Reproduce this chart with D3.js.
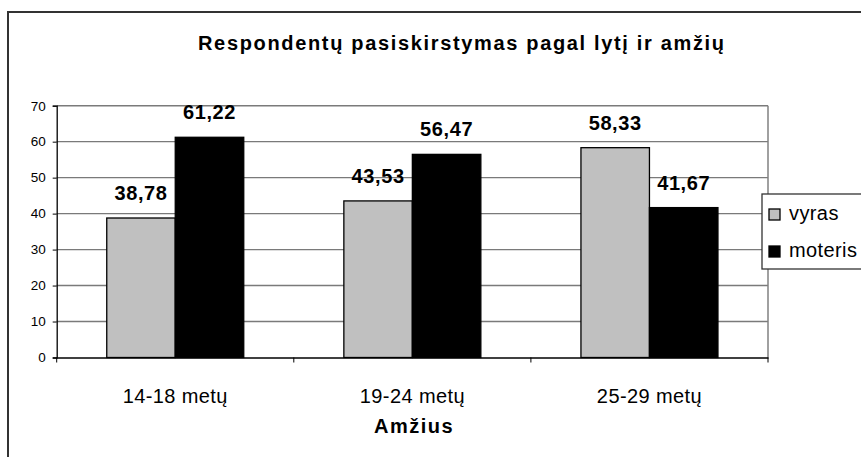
<!DOCTYPE html>
<html>
<head>
<meta charset="utf-8">
<script src="https://cdn.jsdelivr.net/npm/d3@7"></script>
<style>
  html, body { margin: 0; padding: 0; background: #fff; }
  svg { display: block; font-family: "Liberation Sans", Arial, sans-serif; }
</style>
</head>
<body>
<svg id="chart" width="861" height="457"></svg>
<script>
const categories = ["14-18 metų", "19-24 metų", "25-29 metų"];
const seriesNames = ["vyras", "moteris"];
const vyras = [38.78, 43.53, 58.33];
const moteris = [61.22, 56.47, 41.67];
const yTicks = [0, 10, 20, 30, 40, 50, 60, 70];
const title = "Respondentų pasiskirstymas pagal lytį ir amžių";
const xTitle = "Amžius";

const fills = { vyras: "#c0c0c0", moteris: "#000000" };
const fmt = v => v.toFixed(2).replace(".", ",");

const svg = d3.select("#chart");
const plot = { left: 56.7, right: 768, top: 105.7, bottom: 357.5 };

// outer chart border
svg.append("rect")
  .attr("x", 8).attr("y", 12).attr("width", 900).attr("height", 500)
  .attr("fill", "#fff").attr("stroke", "#333").attr("stroke-width", 2);

const x0 = d3.scaleBand().domain(categories).range([plot.left, plot.right]).paddingInner(0).paddingOuter(0);
const groupW = 137;
const x1 = d3.scaleBand().domain(seriesNames)
  .range([(x0.bandwidth() - groupW) / 2, (x0.bandwidth() + groupW) / 2]);
const y = d3.scaleLinear().domain([0, 70]).range([plot.bottom, plot.top]);

// gridlines
svg.append("g").selectAll("line").data(yTicks.filter(t => t > 0)).join("line")
  .attr("x1", plot.left).attr("x2", plot.right)
  .attr("y1", d => y(d)).attr("y2", d => y(d))
  .attr("stroke", "#7a7a7a").attr("stroke-width", 1.4);

// plot right border
svg.append("line")
  .attr("x1", plot.right).attr("x2", plot.right)
  .attr("y1", plot.top).attr("y2", plot.bottom)
  .attr("stroke", "#808080").attr("stroke-width", 1.5);

// bars
const data = categories.map((c, i) => ({ cat: c, values: [
  { s: "vyras", v: vyras[i] }, { s: "moteris", v: moteris[i] } ] }));

const groups = svg.append("g").selectAll("g").data(data).join("g")
  .attr("transform", d => `translate(${x0(d.cat)},0)`);

groups.selectAll("rect").data(d => d.values).join("rect")
  .attr("x", d => x1(d.s)).attr("width", x1.bandwidth())
  .attr("y", d => y(d.v)).attr("height", d => y(0) - y(d.v))
  .attr("fill", d => fills[d.s]).attr("stroke", "#000").attr("stroke-width", 1.3);

groups.selectAll("text").data(d => d.values).join("text")
  .attr("x", d => x1(d.s) + x1.bandwidth() / 2)
  .attr("y", d => y(d.v) - 18)
  .attr("text-anchor", "middle")
  .attr("font-size", 20).attr("font-weight", "bold")
  .attr("letter-spacing", 0.6)
  .text(d => fmt(d.v));

// y axis
const yAxis = svg.append("g").attr("transform", `translate(${plot.left},0)`)
  .call(d3.axisLeft(y).tickValues(yTicks).tickSize(4).tickPadding(7).tickFormat(d3.format("d")));
yAxis.select(".domain").attr("stroke", "#000").attr("stroke-width", 1.3);
yAxis.selectAll(".tick line").attr("stroke", "#000");
yAxis.selectAll(".tick text").attr("font-size", 13.5).attr("fill", "#000")
  .attr("font-family", "Liberation Sans, Arial, sans-serif");

// x axis
const xAxis = svg.append("g").attr("transform", `translate(0,${plot.bottom})`)
  .call(d3.axisBottom(x0).tickSize(0).tickPadding(31));
xAxis.select(".domain").attr("stroke", "#000").attr("stroke-width", 1.3);
xAxis.selectAll(".tick text").attr("font-size", 20).attr("fill", "#000")
  .attr("letter-spacing", 0.4)
  .attr("font-family", "Liberation Sans, Arial, sans-serif");
// boundary ticks
const bounds = categories.map(c => x0(c)).concat([x0.range()[1]]);
svg.append("g").selectAll("line").data(bounds).join("line")
  .attr("x1", d => d).attr("x2", d => d)
  .attr("y1", plot.bottom).attr("y2", plot.bottom + 5)
  .attr("stroke", "#000").attr("stroke-width", 1);

// titles
svg.append("text").attr("x", 461).attr("y", 50).attr("text-anchor", "middle")
  .attr("font-size", 20).attr("font-weight", "bold")
  .attr("textLength", 526).attr("lengthAdjust", "spacing")
  .text(title);
svg.append("text").attr("x", 414).attr("y", 433).attr("text-anchor", "middle")
  .attr("font-size", 20).attr("font-weight", "bold")
  .attr("letter-spacing", 1.5)
  .text(xTitle);

// legend
const lg = svg.append("g");
lg.append("rect").attr("x", 762).attr("y", 194).attr("width", 120).attr("height", 75)
  .attr("fill", "#fff").attr("stroke", "#333").attr("stroke-width", 1.3);
const items = lg.selectAll("g").data(seriesNames).join("g")
  .attr("transform", (d, i) => `translate(769,${209 + i * 37})`);
items.append("rect").attr("width", 11).attr("height", 11)
  .attr("fill", d => fills[d]).attr("stroke", "#000").attr("stroke-width", 1.3);
items.append("text").attr("x", 20).attr("y", 11)
  .attr("font-size", 20).attr("letter-spacing", 0.4)
  .text(d => d);
</script>
</body>
</html>
